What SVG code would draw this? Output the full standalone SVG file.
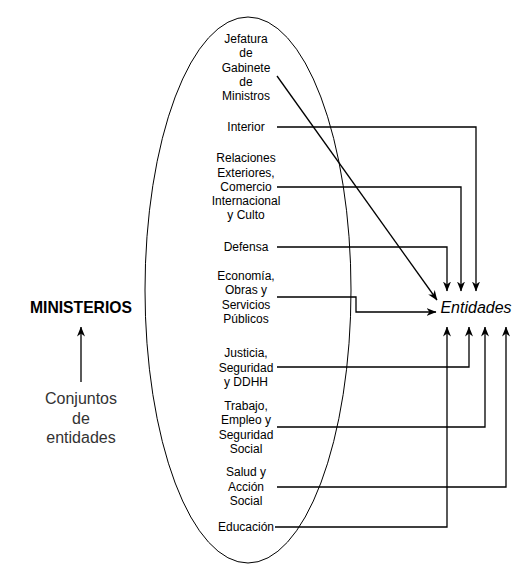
<svg xmlns="http://www.w3.org/2000/svg" width="524" height="576" viewBox="0 0 524 576">
<defs>
<style>
.lbl{font-family:"Liberation Sans",Arial,sans-serif;font-size:12px;fill:#000;text-anchor:middle}
.ln{fill:none;stroke:#000;stroke-width:1.3}
</style>
<marker id="ah" viewBox="0 0 10 8" markerWidth="10" markerHeight="8" refX="9.5" refY="4" orient="auto" markerUnits="userSpaceOnUse">
<path d="M0,0 L10,4 L0,8 L3,4 z" fill="#000"/>
</marker>
</defs>
<rect width="524" height="576" fill="#fff"/>
<g id="ellipse"><ellipse cx="248" cy="290" rx="103" ry="273" fill="none" stroke="#000" stroke-width="1"/></g>
<g id="ministerios"><text x="81" y="313" font-family="Liberation Sans,Arial,sans-serif" font-size="15.7" font-weight="bold" text-anchor="middle">MINISTERIOS</text></g>
<g id="conjuntos" font-family="Liberation Sans,Arial,sans-serif" font-size="16" fill="#333" text-anchor="middle">
<text x="81" y="404">Conjuntos</text><text x="81" y="424">de</text><text x="81" y="443">entidades</text>
</g>
<g id="entidades"><text x="476" y="313" font-family="Liberation Sans,Arial,sans-serif" font-size="16" font-style="italic" text-anchor="middle">Entidades</text></g>
<g id="jefatura" class="lbl"><text class="lbl" x="246" y="43">Jefatura</text><text class="lbl" x="246" y="57">de</text><text class="lbl" x="246" y="71.5">Gabinete</text><text class="lbl" x="246" y="86">de</text><text class="lbl" x="246" y="100">Ministros</text></g>
<g id="interior"><text class="lbl" x="246" y="131">Interior</text></g>
<g id="relaciones"><text class="lbl" x="246" y="162">Relaciones</text><text class="lbl" x="246" y="176.5">Exteriores,</text><text class="lbl" x="246" y="191">Comercio</text><text class="lbl" x="246" y="205">Internacional</text><text class="lbl" x="246" y="219">y Culto</text></g>
<g id="defensa"><text class="lbl" x="246" y="251">Defensa</text></g>
<g id="economia"><text class="lbl" x="246" y="280">Economía,</text><text class="lbl" x="246" y="294">Obras y</text><text class="lbl" x="246" y="309">Servicios</text><text class="lbl" x="246" y="323">Públicos</text></g>
<g id="justicia"><text class="lbl" x="246" y="357">Justicia,</text><text class="lbl" x="246" y="371.5">Seguridad</text><text class="lbl" x="246" y="386">y DDHH</text></g>
<g id="trabajo"><text class="lbl" x="246" y="410">Trabajo,</text><text class="lbl" x="246" y="424">Empleo y</text><text class="lbl" x="246" y="438.5">Seguridad</text><text class="lbl" x="246" y="453">Social</text></g>
<g id="salud"><text class="lbl" x="246" y="476">Salud y</text><text class="lbl" x="246" y="491">Acción</text><text class="lbl" x="246" y="505">Social</text></g>
<g id="educacion"><text class="lbl" x="246" y="531">Educación</text></g>
<g id="connectors">
<path class="ln" d="M81,382 L81,327" marker-end="url(#ah)"/>
<path class="ln" d="M277,76 L437,300" marker-end="url(#ah)"/>
<path class="ln" d="M277,127 L476,127 L476,291" marker-end="url(#ah)"/>
<path class="ln" d="M277,187 L461,187 L461,291" marker-end="url(#ah)"/>
<path class="ln" d="M277,247 L447,247 L447,291" marker-end="url(#ah)"/>
<path class="ln" d="M277,297 L356,297 L356,312 L436,312" marker-end="url(#ah)"/>
<path class="ln" d="M277,367 L469,367 L469,327" marker-end="url(#ah)"/>
<path class="ln" d="M277,427 L485,427 L485,327" marker-end="url(#ah)"/>
<path class="ln" d="M277,487 L506,487 L506,327" marker-end="url(#ah)"/>
<path class="ln" d="M275,527 L447,527 L447,327" marker-end="url(#ah)"/>
</g>
</svg>
